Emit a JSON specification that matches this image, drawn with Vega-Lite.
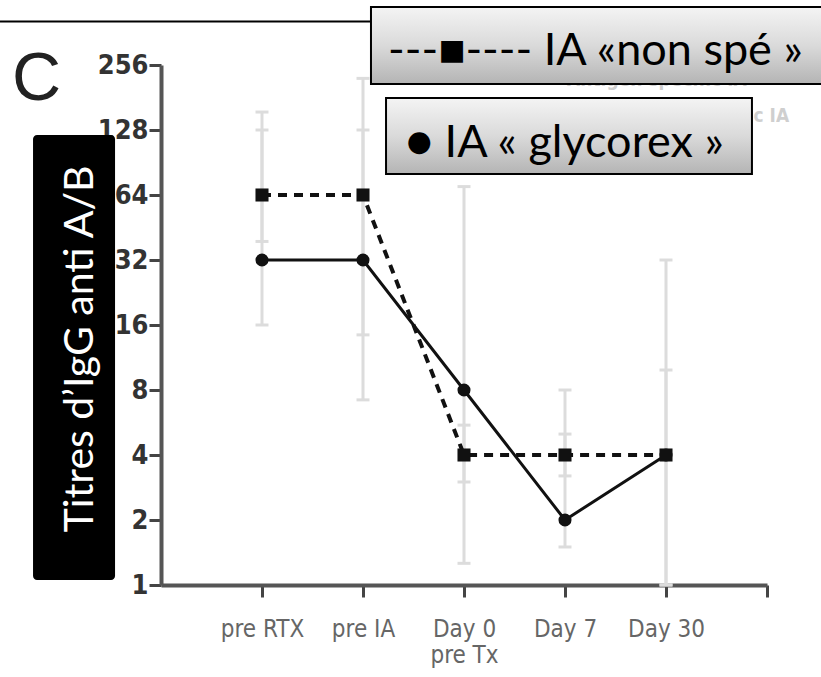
{
  "$schema": "https://vega.github.io/schema/vega-lite/v6.json",
  "width": 606,
  "height": 520,
  "autosize": {"type": "none"},
  "padding": {"left": 161, "top": 65, "right": 54, "bottom": 92},
  "background": "white",
  "config": {
    "view": {"stroke": null},
    "axisX": {
      "labelExpr": "datum.value==1?'pre RTX':datum.value==2?'pre IA':datum.value==3?['Day 0','pre Tx']:datum.value==4?'Day 7':datum.value==5?'Day 30':''",
      "domainColor": "#555", "domainWidth": 4, "tickColor": "#444", "tickWidth": 3, "tickSize": 12,
      "labelFont": "'Liberation Sans Narrow', 'DejaVu Sans Condensed', 'Liberation Sans', sans-serif", "labelFontSize": 24, "labelColor": "#666",
      "labelPadding": 20, "labelBaseline": "top", "labelLineHeight": 26, "grid": false, "labelFlush": false
    },
    "axisY": {
      "domainColor": "#555", "domainWidth": 4, "tickColor": "#444", "tickWidth": 3, "tickSize": 12,
      "labelFont": "'Liberation Sans Narrow', 'DejaVu Sans Condensed', 'Liberation Sans', sans-serif", "labelFontWeight": "bold", "labelFontSize": 27, "labelColor": "#333",
      "labelPadding": 1, "grid": false, "labelFlush": false
    }
  },
  "datasets": {
    "series": [
      {"t": 1, "v": 32, "s": "glycorex", "lo": 16, "hi": 128},
      {"t": 2, "v": 32, "s": "glycorex", "lo": 7.2, "hi": 222},
      {"t": 3, "v": 8, "s": "glycorex", "lo": 1.26, "hi": 70},
      {"t": 4, "v": 2, "s": "glycorex", "lo": 1.5, "hi": 8},
      {"t": 5, "v": 4, "s": "glycorex", "lo": 1, "hi": 32},
      {"t": 1, "v": 64, "s": "non spé", "lo": 39, "hi": 155},
      {"t": 2, "v": 64, "s": "non spé", "lo": 14.4, "hi": 128},
      {"t": 3, "v": 4, "s": "non spé", "lo": 3, "hi": 5.5},
      {"t": 4, "v": 4, "s": "non spé", "lo": 3.2, "hi": 5},
      {"t": 5, "v": 4, "s": "non spé", "lo": 1, "hi": 9.9}
    ],
    "boxes": [
      {"id": "b1", "x": 2.079, "x2": 6.62, "y": 475, "y2": 209},
      {"id": "b2", "x": 2.228, "x2": 5.851, "y": 180, "y2": 80}
    ],
    "boxtext": [
      {"x": 2.248, "y": 256, "label": "---■---- IA «non spé »"},
      {"x": 2.426, "y": 96, "label": "● IA « glycorex »"}
    ],
    "faded": [
      {"x": 4.02, "y": 218, "label": "Antigen specific IA"},
      {"x": 4.02, "y": 148.6, "label": "Non antigen specific IA"}
    ],
    "topline": [{"x": -1.594, "x2": 2.2, "y": 407}],
    "blackbox": [{"x": -1.267, "x2": -0.455, "y": 121.4, "y2": 1.055}],
    "ylabel": [{"x": -0.673, "y": 12.4, "label": "Titres d’IgG anti A/B"}],
    "panel": [{"x": -1.475, "y": 176, "label": "C"}]
  },
  "layer": [
    {
      "data": {"name": "series"},
      "mark": {"type": "rule", "color": "#dcdcdc", "strokeWidth": 3},
      "encoding": {
        "x": {"field": "t", "type": "quantitative", "scale": {"domain": [0, 6], "nice": false, "zero": false}, "axis": {"title": null, "values": [1, 2, 3, 4, 5, 6]}},
        "y": {"field": "lo", "type": "quantitative", "scale": {"type": "log", "base": 2, "domain": [1, 256], "nice": false}, "axis": {"title": null, "values": [1, 2, 4, 8, 16, 32, 64, 128, 256], "format": "d"}},
        "y2": {"field": "hi"}
      }
    },
    {
      "data": {"name": "series"},
      "mark": {"type": "tick", "orient": "horizontal", "color": "#dcdcdc", "size": 13, "thickness": 3, "opacity": 1},
      "encoding": {
        "x": {"field": "t", "type": "quantitative", "scale": {"domain": [0, 6], "nice": false, "zero": false}, "axis": {"title": null, "values": [1, 2, 3, 4, 5, 6]}},
        "y": {"field": "lo", "type": "quantitative", "scale": {"type": "log", "base": 2, "domain": [1, 256], "nice": false}, "axis": {"title": null, "values": [1, 2, 4, 8, 16, 32, 64, 128, 256], "format": "d"}}
      }
    },
    {
      "data": {"name": "series"},
      "mark": {"type": "tick", "orient": "horizontal", "color": "#dcdcdc", "size": 13, "thickness": 3, "opacity": 1},
      "encoding": {
        "x": {"field": "t", "type": "quantitative", "scale": {"domain": [0, 6], "nice": false, "zero": false}, "axis": {"title": null, "values": [1, 2, 3, 4, 5, 6]}},
        "y": {"field": "hi", "type": "quantitative", "scale": {"type": "log", "base": 2, "domain": [1, 256], "nice": false}, "axis": {"title": null, "values": [1, 2, 4, 8, 16, 32, 64, 128, 256], "format": "d"}}
      }
    },
    {
      "data": {"name": "series"},
      "transform": [{"filter": "datum.s == 'non spé'"}],
      "mark": {"type": "line", "color": "#111", "strokeWidth": 4, "strokeDash": [9, 7]},
      "encoding": {
        "x": {"field": "t", "type": "quantitative", "scale": {"domain": [0, 6], "nice": false, "zero": false}, "axis": {"title": null, "values": [1, 2, 3, 4, 5, 6]}},
        "y": {"field": "v", "type": "quantitative", "scale": {"type": "log", "base": 2, "domain": [1, 256], "nice": false}, "axis": {"title": null, "values": [1, 2, 4, 8, 16, 32, 64, 128, 256], "format": "d"}}
      }
    },
    {
      "data": {"name": "series"},
      "transform": [{"filter": "datum.s == 'glycorex'"}],
      "mark": {"type": "line", "color": "#111", "strokeWidth": 3},
      "encoding": {
        "x": {"field": "t", "type": "quantitative", "scale": {"domain": [0, 6], "nice": false, "zero": false}, "axis": {"title": null, "values": [1, 2, 3, 4, 5, 6]}},
        "y": {"field": "v", "type": "quantitative", "scale": {"type": "log", "base": 2, "domain": [1, 256], "nice": false}, "axis": {"title": null, "values": [1, 2, 4, 8, 16, 32, 64, 128, 256], "format": "d"}}
      }
    },
    {
      "data": {"name": "series"},
      "mark": {"type": "point", "filled": true, "color": "#111", "opacity": 1, "size": 170},
      "encoding": {
        "x": {"field": "t", "type": "quantitative", "scale": {"domain": [0, 6], "nice": false, "zero": false}, "axis": {"title": null, "values": [1, 2, 3, 4, 5, 6]}},
        "y": {"field": "v", "type": "quantitative", "scale": {"type": "log", "base": 2, "domain": [1, 256], "nice": false}, "axis": {"title": null, "values": [1, 2, 4, 8, 16, 32, 64, 128, 256], "format": "d"}},
        "shape": {"field": "s", "type": "nominal", "scale": {"domain": ["glycorex", "non spé"], "range": ["circle", "square"]}, "legend": null}
      }
    },
    {
      "data": {"name": "faded"},
      "mark": {"type": "text", "align": "left", "baseline": "middle", "font": "'Liberation Sans Narrow', 'DejaVu Sans Condensed', 'Liberation Sans', sans-serif", "fontWeight": "bold", "fontSize": 19, "color": "#cfcfcf"},
      "encoding": {
        "x": {"field": "x", "type": "quantitative", "scale": {"domain": [0, 6], "nice": false, "zero": false}, "axis": {"title": null, "values": [1, 2, 3, 4, 5, 6]}},
        "y": {"field": "y", "type": "quantitative", "scale": {"type": "log", "base": 2, "domain": [1, 256], "nice": false}, "axis": {"title": null, "values": [1, 2, 4, 8, 16, 32, 64, 128, 256], "format": "d"}},
        "text": {"field": "label"}
      }
    },
    {
      "data": {"name": "topline"},
      "mark": {"type": "rule", "color": "#000", "strokeWidth": 2},
      "encoding": {
        "x": {"field": "x", "type": "quantitative", "scale": {"domain": [0, 6], "nice": false, "zero": false}, "axis": {"title": null, "values": [1, 2, 3, 4, 5, 6]}},
        "x2": {"field": "x2"},
        "y": {"field": "y", "type": "quantitative", "scale": {"type": "log", "base": 2, "domain": [1, 256], "nice": false}, "axis": {"title": null, "values": [1, 2, 4, 8, 16, 32, 64, 128, 256], "format": "d"}}
      }
    },
    {
      "data": {"name": "boxes"},
      "mark": {"type": "rect", "stroke": "#000", "strokeWidth": 2,
        "fill": {"gradient": "linear", "x1": 0, "y1": 0, "x2": 0, "y2": 1,
          "stops": [{"offset": 0, "color": "#f4f4f4"}, {"offset": 0.5, "color": "#dadada"}, {"offset": 1, "color": "#b4b4b4"}]}},
      "encoding": {
        "x": {"field": "x", "type": "quantitative", "scale": {"domain": [0, 6], "nice": false, "zero": false}, "axis": {"title": null, "values": [1, 2, 3, 4, 5, 6]}},
        "x2": {"field": "x2"},
        "y": {"field": "y", "type": "quantitative", "scale": {"type": "log", "base": 2, "domain": [1, 256], "nice": false}, "axis": {"title": null, "values": [1, 2, 4, 8, 16, 32, 64, 128, 256], "format": "d"}},
        "y2": {"field": "y2"}
      }
    },
    {
      "data": {"name": "boxtext"},
      "mark": {"type": "text", "align": "left", "baseline": "alphabetic", "font": "Lato", "fontSize": 45, "color": "#000"},
      "encoding": {
        "x": {"field": "x", "type": "quantitative", "scale": {"domain": [0, 6], "nice": false, "zero": false}, "axis": {"title": null, "values": [1, 2, 3, 4, 5, 6]}},
        "y": {"field": "y", "type": "quantitative", "scale": {"type": "log", "base": 2, "domain": [1, 256], "nice": false}, "axis": {"title": null, "values": [1, 2, 4, 8, 16, 32, 64, 128, 256], "format": "d"}},
        "text": {"field": "label"}
      }
    },
    {
      "data": {"name": "blackbox"},
      "mark": {"type": "rect", "fill": "#000", "cornerRadius": 4},
      "encoding": {
        "x": {"field": "x", "type": "quantitative", "scale": {"domain": [0, 6], "nice": false, "zero": false}, "axis": {"title": null, "values": [1, 2, 3, 4, 5, 6]}},
        "x2": {"field": "x2"},
        "y": {"field": "y", "type": "quantitative", "scale": {"type": "log", "base": 2, "domain": [1, 256], "nice": false}, "axis": {"title": null, "values": [1, 2, 4, 8, 16, 32, 64, 128, 256], "format": "d"}},
        "y2": {"field": "y2"}
      }
    },
    {
      "data": {"name": "ylabel"},
      "mark": {"type": "text", "align": "center", "baseline": "alphabetic", "angle": 270, "font": "Lato", "fontSize": 41, "color": "#fff"},
      "encoding": {
        "x": {"field": "x", "type": "quantitative", "scale": {"domain": [0, 6], "nice": false, "zero": false}, "axis": {"title": null, "values": [1, 2, 3, 4, 5, 6]}},
        "y": {"field": "y", "type": "quantitative", "scale": {"type": "log", "base": 2, "domain": [1, 256], "nice": false}, "axis": {"title": null, "values": [1, 2, 4, 8, 16, 32, 64, 128, 256], "format": "d"}},
        "text": {"field": "label"}
      }
    },
    {
      "data": {"name": "panel"},
      "mark": {"type": "text", "align": "left", "baseline": "alphabetic", "font": "'Liberation Sans', sans-serif", "fontSize": 68, "color": "#222"},
      "encoding": {
        "x": {"field": "x", "type": "quantitative", "scale": {"domain": [0, 6], "nice": false, "zero": false}, "axis": {"title": null, "values": [1, 2, 3, 4, 5, 6]}},
        "y": {"field": "y", "type": "quantitative", "scale": {"type": "log", "base": 2, "domain": [1, 256], "nice": false}, "axis": {"title": null, "values": [1, 2, 4, 8, 16, 32, 64, 128, 256], "format": "d"}},
        "text": {"field": "label"}
      }
    }
  ]
}
